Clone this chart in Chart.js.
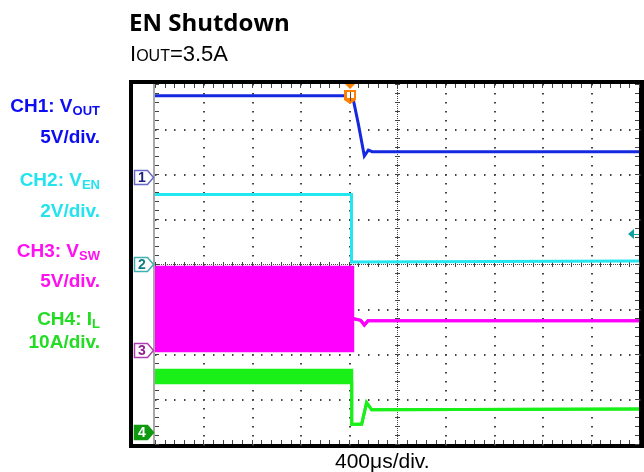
<!DOCTYPE html>
<html>
<head>
<meta charset="utf-8">
<script src="https://cdn.jsdelivr.net/npm/chart.js@4.4.1/dist/chart.umd.min.js"></script>
<style>
  body { margin: 0; background: #fff; }
  #wrap { position: relative; width: 644px; height: 472px; overflow: hidden; font-family: "Liberation Sans", Arial, sans-serif; }
  #wrap canvas { position: absolute; left: 0; top: 0; }
  .t { position: absolute; white-space: nowrap; line-height: 1; }
  .lab { position: absolute; right: 544px; font-weight: bold; font-size: 19px; line-height: 1; text-align: right; white-space: nowrap; }
  .lab sub { font-size: 13px; vertical-align: -3px; line-height: 0; }
</style>
</head>
<body>
<div id="wrap">
  <canvas id="scope" width="644" height="472"></canvas>
  <div class="t" style="left:129px;top:10px;font-family:'Open Sans';font-weight:700;font-size:24px;">EN Shutdown</div>
  <div class="t" style="left:130px;top:43px;font-size:22px;">I<span style="font-size:16px">OUT</span>=3.5A</div>

  <div class="lab" style="top:96px;color:#0d0df2">CH1: V<sub>OUT</sub></div>
  <div class="lab" style="top:127px;color:#0d0df2">5V/div.</div>
  <div class="lab" style="top:170px;color:#22e3ee">CH2: V<sub>EN</sub></div>
  <div class="lab" style="top:201px;color:#22e3ee">2V/div.</div>
  <div class="lab" style="top:241px;color:#ff10f0">CH3: V<sub>SW</sub></div>
  <div class="lab" style="top:271px;color:#ff10f0">5V/div.</div>
  <div class="lab" style="top:309px;color:#22dd22">CH4: I<sub>L</sub></div>
  <div class="lab" style="top:332px;color:#22dd22">10A/div.</div>

  <div class="t" style="left:335px;top:450px;font-size:21px;">400μs/div.</div>
</div>

<script>
// time base: 10 div x 400us
var timeMin = 0, timeMax = 4000;
var trigTime = 1611;      // us, trigger position marker
var trigLevel = 1.33;     // V on CH2

// channel settings
var chNames = ["1", "2", "3", "4"];
var perDiv  = [5, 2, 5, 10];          // V/div, V/div, V/div, A/div
var gndDiv  = [1.93, 0, -1.91, -3.73]; // ground marker, divisions from centre

// CH1 Vout (V)
var voutTime = [0, 1632, 1680, 1730, 1763, 1795, 4000];
var voutVal  = [9.05, 9.05, 5.95, 2.35, 3.0, 2.83, 2.83];

// CH2 Ven (V)
var venTime = [0, 1624, 1624, 4000];
var venVal  = [3.09, 3.09, 0.09, 0.13];

// CH3 Vsw (V) - switching envelope before shutdown
var vswTime = [0, 1634, 1634, 1700, 1730, 1760, 4000];
var vswHigh = [9.2, 9.2, 3.5, 3.3, 2.77, 3.25, 3.25];
var vswLow  = [-0.1, -0.1, 3.5, 3.3, 2.77, 3.25, 3.25];

// CH4 IL (A) - ripple envelope before shutdown
var ilTime = [0, 1626, 1626, 1708, 1749, 1791, 4000];
var ilHigh = [13.7, 13.7, 1.7, 1.7, 6.5, 4.9, 5.1];
var ilLow  = [10.9, 10.9, 1.7, 1.7, 6.5, 4.9, 5.1];

function pts(xs, ys) {
  return xs.map(function (x, i) { return {x: x, y: ys[i]}; });
}

var colors = ["#1428e0", "#22e6f0", "#ff00ff", "#18f018"];

// one y axis per channel, 8 divisions tall
var scales = {
  x: {type: "linear", min: timeMin, max: timeMax, display: false}
};
for (var c = 0; c < 4; c++) {
  scales["y" + (c + 1)] = {
    type: "linear", display: false,
    min: (-4 - gndDiv[c]) * perDiv[c],
    max: (4 - gndDiv[c]) * perDiv[c]
  };
}

// oscilloscope frame and graticule
var graticule = {
  id: "graticule",
  beforeDraw: function (chart) {
    var ctx = chart.ctx, a = chart.chartArea;
    ctx.save();
    ctx.fillStyle = "#000";
    ctx.fillRect(129, a.top - 4, 644 - 129, a.bottom - a.top + 8);
    ctx.fillStyle = "#fff";
    ctx.fillRect(133, a.top, a.right - 133, a.bottom - a.top);
    ctx.fillStyle = "#a8a8a8";
    ctx.fillRect(a.left - 2, a.top, 2, a.bottom - a.top);
    ctx.restore();
  },
  beforeDatasetsDraw: function (chart) {
    var ctx = chart.ctx, a = chart.chartArea;
    var dx = (a.right - a.left) / 10, dy = (a.bottom - a.top) / 8;
    ctx.save();
    ctx.fillStyle = "#444";
    var i, k, x, y;
    // dotted major lines
    for (i = 1; i < 10; i++) {
      if (i === 5) continue;
      x = Math.round(a.left + i * dx);
      for (k = 0; k <= 40; k++) ctx.fillRect(x, Math.round(a.top + k * dy / 5), 2, 1.5);
    }
    for (i = 1; i < 8; i++) {
      if (i === 4) continue;
      y = Math.round(a.top + i * dy);
      for (k = 0; k <= 50; k++) ctx.fillRect(Math.round(a.left + k * dx / 5), y, 1.5, 2);
    }
    // centre cross with ticks
    var cx = Math.round(a.left + 5 * dx), cy = Math.round(a.top + 4 * dy);
    for (y = a.top; y < a.bottom; y += 2) ctx.fillRect(cx, y, 1, 1);
    for (x = a.left; x < a.right; x += 2) ctx.fillRect(x, cy, 1, 1);
    for (k = 0; k <= 40; k++) ctx.fillRect(cx - 2, Math.round(a.top + k * dy / 5), 5, 1);
    for (k = 0; k <= 50; k++) ctx.fillRect(Math.round(a.left + k * dx / 5), cy - 2, 1, 5);
    // edge ticks
    for (k = 0; k <= 40; k++) {
      y = Math.round(a.top + k * dy / 5);
      ctx.fillRect(a.left, y, 4, 1);
      ctx.fillRect(a.right - 4, y, 4, 1);
    }
    for (k = 0; k <= 50; k++) {
      x = Math.round(a.left + k * dx / 5);
      ctx.fillRect(x, a.top, 1, 4);
      ctx.fillRect(x, a.bottom - 4, 1, 4);
    }
    ctx.restore();
  },
  afterDatasetsDraw: function (chart) {
    var ctx = chart.ctx, a = chart.chartArea;
    ctx.save();
    // channel ground markers
    var outline = ["#6a6ac8", "#40b0b0", "#b040b0", "#109a10"];
    var fillc   = ["#fff", "#fff", "#fff", "#109a10"];
    var textc   = ["#202080", "#108080", "#902090", "#fff"];
    for (var c = 0; c < 4; c++) {
      var y = Math.round(chart.scales["y" + (c + 1)].getPixelForValue(0)) + 0.5;
      ctx.beginPath();
      ctx.moveTo(134.5, y - 7); ctx.lineTo(147.5, y - 7); ctx.lineTo(153.5, y);
      ctx.lineTo(147.5, y + 7); ctx.lineTo(134.5, y + 7); ctx.closePath();
      ctx.fillStyle = fillc[c]; ctx.fill();
      ctx.strokeStyle = outline[c]; ctx.lineWidth = 1.5; ctx.stroke();
      ctx.fillStyle = textc[c];
      ctx.font = "bold 14px 'Liberation Sans'";
      ctx.textAlign = "center"; ctx.textBaseline = "middle";
      ctx.fillText(chNames[c], 142, y + 1);
    }
    // trigger position marker
    var tx = Math.round(chart.scales.x.getPixelForValue(trigTime));
    ctx.fillStyle = "#ff8000";
    ctx.beginPath();
    ctx.moveTo(tx - 5, a.top); ctx.lineTo(tx + 5, a.top); ctx.lineTo(tx, a.top + 5); ctx.closePath();
    ctx.fill();
    ctx.beginPath();
    ctx.moveTo(tx - 6, a.top + 6); ctx.lineTo(tx + 6, a.top + 6); ctx.lineTo(tx + 6, a.top + 16);
    ctx.lineTo(tx, a.top + 20); ctx.lineTo(tx - 6, a.top + 16); ctx.closePath();
    ctx.fill();
    ctx.fillStyle = "#fff";
    ctx.fillRect(tx - 3, a.top + 8, 7, 6);
    ctx.fillStyle = "#804000";
    ctx.fillRect(tx, a.top + 8, 1, 9);
    // trigger level marker
    var ty = Math.round(chart.scales.y2.getPixelForValue(trigLevel));
    ctx.fillStyle = "#10a0a0";
    ctx.beginPath();
    ctx.moveTo(a.right - 11, ty); ctx.lineTo(a.right - 5, ty - 5); ctx.lineTo(a.right - 5, ty + 5); ctx.closePath();
    ctx.fill();
    ctx.fillRect(a.right - 6, ty, 6, 1);
    ctx.restore();
  }
};

function line(data, axis, color, width, fill) {
  return {
    data: data, yAxisID: axis, borderColor: color, borderWidth: width,
    backgroundColor: color, fill: fill || false,
    pointRadius: 0, tension: 0
  };
}

new Chart("scope", {
  type: "line",
  data: {
    datasets: [
      line(pts(voutTime, voutVal), "y1", colors[0], 3),
      line(pts(venTime, venVal), "y2", colors[1], 3),
      line(pts(vswTime, vswHigh), "y3", colors[2], 3),
      line(pts(vswTime, vswLow), "y3", colors[2], 3, "-1"),
      line(pts(ilTime, ilHigh), "y4", colors[3], 3),
      line(pts(ilTime, ilLow), "y4", colors[3], 3, "-1")
    ]
  },
  options: {
    responsive: false,
    animation: false,
    layout: {padding: {left: 155, top: 84, right: 5, bottom: 28}},
    scales: scales,
    plugins: {legend: {display: false}, tooltip: {enabled: false}}
  },
  plugins: [graticule]
});
</script>
</body>
</html>
